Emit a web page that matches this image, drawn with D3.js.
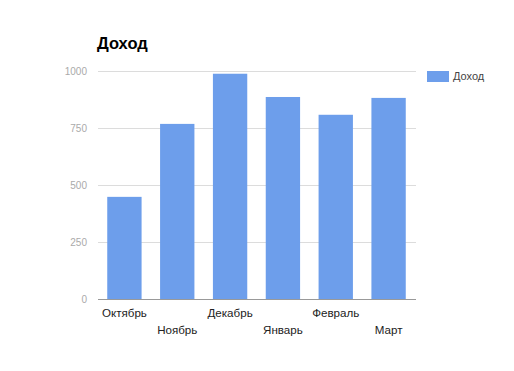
<!DOCTYPE html>
<html><head><meta charset="utf-8">
<script src="https://cdn.jsdelivr.net/npm/d3@7"></script>
<style>body{margin:0;background:#fff}svg{display:block;font-family:Arial,"Liberation Sans",sans-serif}</style>
</head><body><svg id="c" width="514" height="371"></svg>
<script>
const categories = ["Октябрь","Ноябрь","Декабрь","Январь","Февраль","Март"];
const values = [448, 768, 988, 886, 808, 882];
const yTicks = [0, 250, 500, 750, 1000];
const seriesName = "Доход";
const chartTitle = "Доход";

(function () {
const svg = d3.select("#c");
const pLeft = 98, pRight = 415, pTop = 71, pBottom = 299;
const x = d3.scaleBand().domain(categories).range([pLeft, pRight]).paddingInner(0.35).paddingOuter(0.175);
const y = d3.scaleLinear().domain([0, 1000]).range([pBottom, pTop]);

svg.append("g").selectAll("line").data(yTicks.filter(d => d > 0)).join("line")
  .attr("x1", pLeft).attr("x2", pRight + 1)
  .attr("y1", d => Math.round(y(d)) + 0.5).attr("y2", d => Math.round(y(d)) + 0.5)
  .attr("stroke", "#dcdcdc").attr("stroke-width", 1);

svg.append("g").selectAll("text").data(yTicks).join("text")
  .attr("x", 87).attr("y", d => y(d) + 3.5)
  .attr("text-anchor", "end").attr("font-size", 10).attr("fill", "#aaaaaa")
  .text(d => d);

svg.append("g").selectAll("rect").data(values).join("rect")
  .attr("x", (d, i) => x(categories[i])).attr("width", x.bandwidth())
  .attr("y", d => y(d)).attr("height", d => pBottom - y(d))
  .attr("fill", "#6d9eeb");

svg.append("line").attr("x1", pLeft).attr("x2", pRight + 1)
  .attr("y1", pBottom + 0.5).attr("y2", pBottom + 0.5).attr("stroke", "#999").attr("stroke-width", 1);

svg.append("g").selectAll("text").data(categories).join("text")
  .attr("x", d => x(d) + x.bandwidth() / 2)
  .attr("y", (d, i) => i % 2 === 0 ? 317 : 334)
  .attr("text-anchor", "middle").attr("font-size", 11.6).attr("fill", "#222")
  .text(d => d);

svg.append("text").attr("x", 97).attr("y", 49).attr("font-size", 16.5).attr("font-weight", "bold")
  .attr("fill", "#000").text(chartTitle);

svg.append("rect").attr("x", 427).attr("y", 71).attr("width", 22).attr("height", 11).attr("fill", "#6d9eeb");
svg.append("text").attr("x", 453).attr("y", 80).attr("font-size", 11).attr("fill", "#444").text(seriesName);
})();
</script></body></html>
